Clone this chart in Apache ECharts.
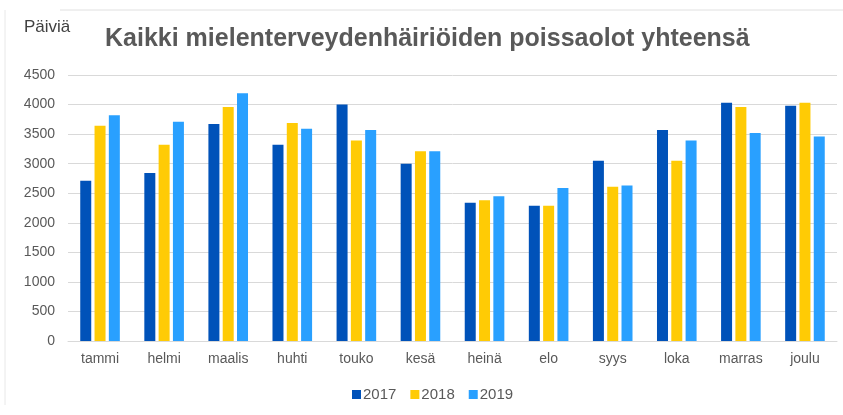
<!DOCTYPE html>
<html>
<head>
<meta charset="utf-8">
<script src="https://cdn.jsdelivr.net/npm/echarts@6/dist/echarts.min.js"></script>
<style>
  html, body { margin: 0; padding: 0; background: #fff; }
  #main { width: 843px; height: 415px; }
</style>
</head>
<body>
<div id="main"></div>
<script>
// kuukaudet
const months = ['tammi', 'helmi', 'maalis', 'huhti', 'touko', 'kesä', 'heinä', 'elo', 'syys', 'loka', 'marras', 'joulu']
// poissaolopäivät vuosittain
const y2017 = [2710, 2840, 3670, 3320, 4000, 3000, 2340, 2290, 3050, 3570, 4030, 3980]
const y2018 = [3640, 3320, 3960, 3690, 3390, 3210, 2380, 2290, 2610, 3050, 3960, 4030]
const y2019 = [3820, 3710, 4190, 3590, 3570, 3210, 2450, 2590, 2630, 3390, 3520, 3460]

const chart = echarts.init(document.getElementById('main'))

const font = "'Liberation Sans', Arial, sans-serif"

const option = {
  color: ['#0052b9', '#ffcb05', '#29a0ff'],
  animation: false,
  title: [
    {
      text: 'Kaikki mielenterveydenhäiriöiden poissaolot yhteensä',
      left: 100,
      top: 22,
      textStyle: { fontFamily: font, fontWeight: 'bold', fontSize: 25, color: '#595959' }
    },
    {
      text: 'Päiviä',
      left: 19,
      top: 14,
      textStyle: { fontFamily: font, fontWeight: 'normal', fontSize: 17, color: '#404040' }
    }
  ],
  legend: {
    bottom: 8,
    left: 347,
    itemWidth: 9,
    itemHeight: 9,
    itemGap: 14,
    icon: 'rect',
    textStyle: { fontFamily: font, fontSize: 15, color: '#595959', padding: [0, 0, 0, -3] }
  },
  grid: {
    left: 68,
    right: 6,
    top: 75,
    bottom: 74
  },
  xAxis: {
    type: 'category',
    data: months,
    axisTick: { show: false },
    axisLine: { lineStyle: { color: '#d9d9d9' } },
    axisLabel: { fontFamily: font, fontSize: 14, color: '#595959', margin: 11 }
  },
  yAxis: {
    type: 'value',
    min: 0,
    max: 4500,
    interval: 500,
    axisLabel: { fontFamily: font, fontSize: 14, color: '#595959', margin: 13, formatter: v => String(v) },
    splitLine: { lineStyle: { color: '#d9d9d9' } }
  },
  series: [
    { name: '2017', type: 'bar', data: y2017, barWidth: 11, barGap: '30%', barCategoryGap: '39%' },
    { name: '2018', type: 'bar', data: y2018, barWidth: 11, barGap: '30%' },
    { name: '2019', type: 'bar', data: y2019, barWidth: 11, barGap: '30%' }
  ],
  graphic: [
    { type: 'line', shape: { x1: 60, y1: 10, x2: 843, y2: 10 }, style: { stroke: '#e0e0e0', lineWidth: 1 } },
    { type: 'line', shape: { x1: 5, y1: 10, x2: 5, y2: 405 }, style: { stroke: '#e8e8e8', lineWidth: 1 } }
  ]
}

chart.setOption(option)
</script>
</body>
</html>
